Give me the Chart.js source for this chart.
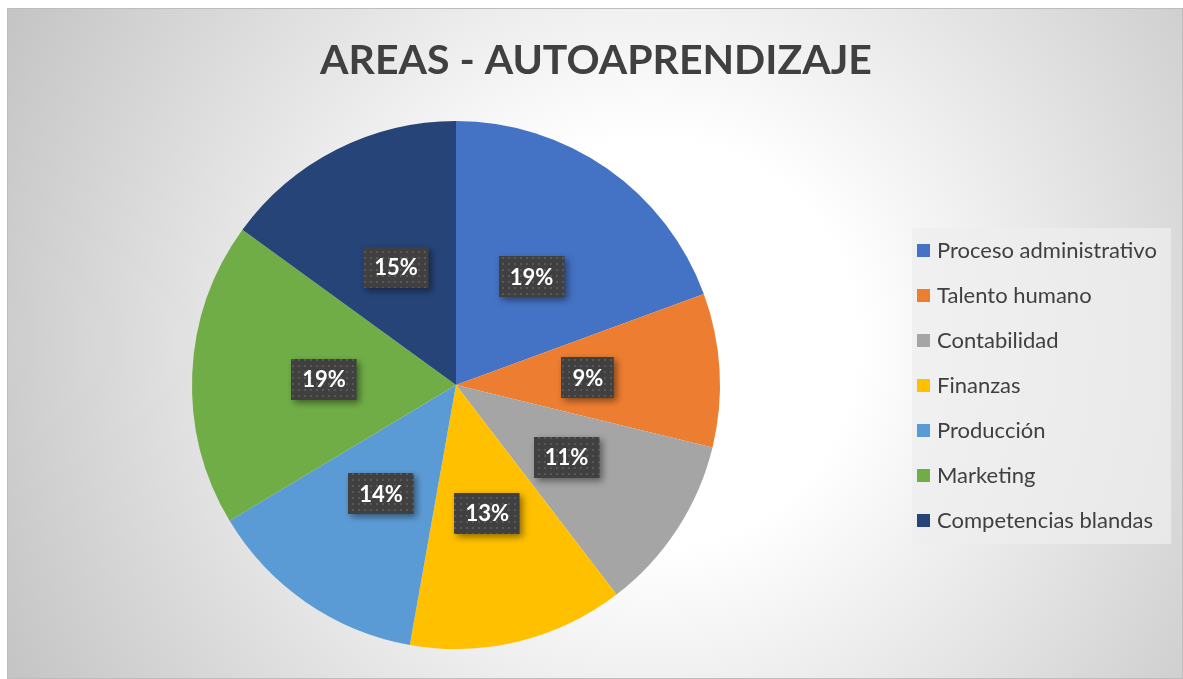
<!DOCTYPE html>
<html>
<head>
<meta charset="utf-8">
<script src="https://cdn.jsdelivr.net/npm/chart.js@4"></script>
<style>
    body { margin: 0; background: #ffffff; }
    #card {
        position: absolute;
        left: 7px;
        top: 8px;
        width: 1176px;
        height: 671px;
        box-sizing: border-box;
        border: 1px solid #bdbdbd;
        background: radial-gradient(circle at 55% 50%, #ffffff 0%, #ffffff 28%, #c4c4c4 100%);
    }
</style>
</head>
<body>
<div id="card"><canvas id="pieChart"></canvas></div>
<script>
// --- Chart data ---
const chartTitle = 'AREAS - AUTOAPRENDIZAJE';
const areaLabels = [
    'Proceso administrativo',
    'Talento humano',
    'Contabilidad',
    'Finanzas',
    'Producción',
    'Marketing',
    'Competencias blandas'
];
const areaValues = [19.4, 9.4, 10.8, 13.2, 13.6, 18.6, 15.0];
const areaColors = ['#4472C4', '#ED7D31', '#A5A5A5', '#FFC000', '#5B9BD5', '#70AD47', '#264478'];

// dotted fill used behind the percentage labels
function makeDotPattern(ctx) {
    const tile = document.createElement('canvas');
    tile.width = 6;
    tile.height = 6;
    const t = tile.getContext('2d');
    t.fillStyle = '#404040';
    t.fillRect(0, 0, 6, 6);
    t.fillStyle = '#585858';
    t.fillRect(2, 2, 2, 2);
    return ctx.createPattern(tile, 'repeat');
}

// --- Title, centred on the whole card (not just the pie area) ---
const cardTitle = {
    id: 'cardTitle',
    afterDraw(chart) {
        const ctx = chart.ctx;
        ctx.save();
        ctx.font = 'bold 41px Lato';
        ctx.fillStyle = '#404040';
        ctx.textAlign = 'center';
        ctx.textBaseline = 'middle';
        ctx.fillText(chartTitle, chart.width / 2 + 1, 52);
        ctx.restore();
    }
};

// --- Percentage boxes on each slice ---
const percentLabels = {
    id: 'percentLabels',
    afterDatasetsDraw(chart) {
        const ctx = chart.ctx;
        const meta = chart.getDatasetMeta(0);
        const total = areaValues.reduce((a, b) => a + b, 0);
        const pattern = makeDotPattern(ctx);
        ctx.save();
        ctx.font = 'bold 22px Lato';
        meta.data.forEach((arc, i) => {
            const pt = arc.getCenterPoint();
            const text = Math.round(areaValues[i] / total * 100) + '%';
            const w = ctx.measureText(text).width + 22;
            const h = 41;
            const x = Math.round(pt.x - w / 2);
            const y = Math.round(pt.y - h / 2);

            ctx.shadowColor = 'rgba(0,0,0,0.45)';
            ctx.shadowBlur = 7;
            ctx.shadowOffsetX = 3;
            ctx.shadowOffsetY = 3;
            ctx.fillStyle = pattern;
            ctx.fillRect(x, y, w, h);
            ctx.shadowColor = 'transparent';

            ctx.fillStyle = '#ffffff';
            ctx.textAlign = 'center';
            ctx.textBaseline = 'middle';
            ctx.fillText(text, pt.x, pt.y + 1);
        });
        ctx.restore();
    }
};

// --- Legend box on the right ---
const sideLegend = {
    id: 'sideLegend',
    afterDraw(chart) {
        const ctx = chart.ctx;
        const left = 904;
        const top = 219;
        const rowGap = 45;
        ctx.save();
        ctx.fillStyle = 'rgba(238,238,238,0.75)';
        ctx.fillRect(left, top, 259, 316);
        ctx.font = '22px Lato';
        ctx.textBaseline = 'middle';
        ctx.textAlign = 'left';
        areaLabels.forEach((label, i) => {
            const cy = top + 22 + i * rowGap;
            ctx.fillStyle = areaColors[i];
            ctx.fillRect(left + 5, cy - 6, 13, 13);
            ctx.fillStyle = '#404040';
            ctx.fillText(label, left + 25, cy + 1);
        });
        ctx.restore();
    }
};

document.addEventListener('DOMContentLoaded', () => {
    const ctx = document.getElementById('pieChart').getContext('2d');
    new Chart(ctx, {
        type: 'pie',
        data: {
            labels: areaLabels,
            datasets: [{
                data: areaValues,
                backgroundColor: areaColors,
                borderWidth: 0
            }]
        },
        options: {
            responsive: true,
            maintainAspectRatio: false,
            devicePixelRatio: 1,
            animation: false,
            layout: {
                padding: { left: 0, right: 278, top: 112, bottom: 29 }
            },
            plugins: {
                title: { display: false },
                legend: { display: false },
                tooltip: { enabled: false }
            }
        },
        plugins: [percentLabels, sideLegend, cardTitle]
    });
});
</script>
</body>
</html>
